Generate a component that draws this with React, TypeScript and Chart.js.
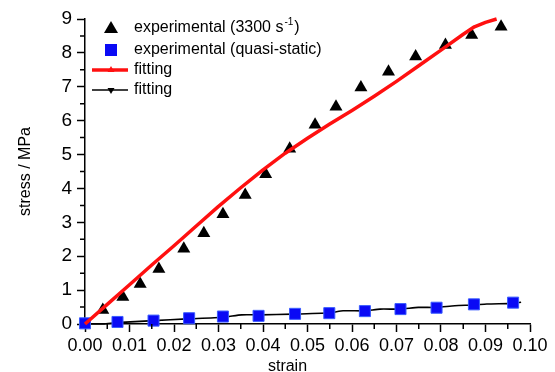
import React, { useEffect, useRef } from "react";
import { Chart, registerables } from "chart.js";

Chart.register(...registerables);

// experimental (3300 s^-1)
const dynStrain = [0.004, 0.0085, 0.0124, 0.0166, 0.0222, 0.0267, 0.031, 0.036, 0.0406, 0.046, 0.0517, 0.0564, 0.062, 0.0682, 0.0743, 0.081, 0.0869, 0.0935];
const dynStress = [0.41, 0.8, 1.18, 1.62, 2.22, 2.68, 3.24, 3.81, 4.42, 5.17, 5.88, 6.41, 6.98, 7.44, 7.89, 8.23, 8.53, 8.77];

// experimental (quasi-static)
const qsStrain = [0.0, 0.0073, 0.0154, 0.0234, 0.031, 0.039, 0.0472, 0.0549, 0.0629, 0.0709, 0.079, 0.0874, 0.0962];
const qsStress = [0.02, 0.06, 0.1, 0.17, 0.22, 0.24, 0.3, 0.32, 0.38, 0.44, 0.48, 0.58, 0.63];

// fitting (dynamic)
const fitDynStrain = [0, 0.005, 0.01, 0.015, 0.02, 0.025, 0.03, 0.035, 0.04, 0.045, 0.05, 0.055, 0.06, 0.065, 0.07, 0.075, 0.08, 0.085, 0.0875, 0.09, 0.0925];
const fitDynStress = [0, 0.58, 1.16, 1.74, 2.31, 2.89, 3.47, 4.02, 4.55, 5.04, 5.48, 5.9, 6.3, 6.72, 7.16, 7.62, 8.08, 8.55, 8.77, 8.9, 9.0];

// fitting (quasi-static)
const fitQsStrain = [0, 0.0041, 0.0071, 0.0154, 0.0229, 0.0311, 0.0352, 0.0393, 0.0468, 0.0551, 0.058, 0.0629, 0.0663, 0.0708, 0.0749, 0.079, 0.0831, 0.0873, 0.0903, 0.0962, 0.098];
const fitQsStress = [0, 0, 0.04, 0.1, 0.15, 0.2, 0.27, 0.27, 0.29, 0.33, 0.39, 0.39, 0.44, 0.44, 0.49, 0.49, 0.54, 0.56, 0.59, 0.61, 0.64];

const seriesLabels = ["experimental (3300 s⁻¹)", "experimental (quasi-static)", "fitting", "fitting"];

const xTitle = "strain";
const yTitle = "stress / MPa";
const xMin = 0, xMax = 0.1, xStep = 0.01;
const yMin = 0, yMax = 9, yStep = 1;

const pts = (xs: number[], ys: number[]) => xs.map((x, i) => ({ x, y: ys[i] }));

const TICK_FONT = "'Liberation Sans Narrow', 'Arial Narrow', 'Liberation Sans', Arial, sans-serif";
const TEXT_FONT = "'Liberation Sans', Arial, sans-serif";

const minorTicks = {
  id: "minorTicks",
  afterDraw(chart: any) {
    const { ctx } = chart;
    const xs = chart.scales.x;
    const ys = chart.scales.y;
    ctx.save();
    ctx.strokeStyle = "#000";
    ctx.lineWidth = 1.5;
    ctx.beginPath();
    for (let v = yMin + yStep / 2; v < yMax; v += yStep) {
      const p = ys.getPixelForValue(v);
      ctx.moveTo(ys.right - 5, p);
      ctx.lineTo(ys.right, p);
    }
    for (let v = xMin + xStep / 2; v < xMax; v += xStep) {
      const p = xs.getPixelForValue(v);
      ctx.moveTo(p, xs.top);
      ctx.lineTo(p, xs.top + 5);
    }
    ctx.stroke();
    ctx.restore();
  },
};

const customLegend = {
  id: "customLegend",
  afterDraw(chart: any) {
    const { ctx, chartArea } = chart;
    const left = chartArea.left;
    const top = chartArea.top;
    const markerX = left + 26;
    const lineX0 = left + 7;
    const lineX1 = left + 43;
    const textX = left + 49;
    const rows = [top + 9, top + 31, top + 51, top + 71];
    const dsOrder = [1, 2, 0, 3];
    ctx.save();
    rows.forEach((y, i) => {
      const ds = chart.data.datasets[dsOrder[i]];
      const isLine = ds.showLine;
      if (isLine) {
        ctx.strokeStyle = ds.borderColor;
        ctx.lineWidth = ds.borderWidth;
        ctx.beginPath();
        ctx.moveTo(lineX0, y);
        ctx.lineTo(lineX1, y);
        ctx.stroke();
        ctx.fillStyle = ds.borderColor;
        ctx.beginPath();
        if (ds.legendMarker === "up") {
          ctx.moveTo(markerX, y - 4);
          ctx.lineTo(markerX + 3.5, y + 2);
          ctx.lineTo(markerX - 3.5, y + 2);
        } else {
          ctx.moveTo(markerX, y + 4);
          ctx.lineTo(markerX + 3.5, y - 2);
          ctx.lineTo(markerX - 3.5, y - 2);
        }
        ctx.closePath();
        ctx.fill();
      } else {
        ctx.fillStyle = ds.backgroundColor;
        ctx.beginPath();
        if (ds.pointStyle === "triangle") {
          ctx.moveTo(markerX, y - 7);
          ctx.lineTo(markerX + 7, y + 5);
          ctx.lineTo(markerX - 7, y + 5);
          ctx.closePath();
        } else {
          ctx.rect(markerX - 6, y - 6, 12, 12);
        }
        ctx.fill();
      }
      const label: string = seriesLabels[i];
      ctx.fillStyle = "#000";
      ctx.textBaseline = "middle";
      ctx.textAlign = "left";
      ctx.font = `16px ${TEXT_FONT}`;
      const sup = label.indexOf("⁻¹");
      if (sup >= 0) {
        const before = label.slice(0, sup);
        const after = label.slice(sup + 2);
        ctx.fillText(before, textX, y);
        let x = textX + ctx.measureText(before).width + 1;
        ctx.font = `10px ${TEXT_FONT}`;
        ctx.fillText("-1", x, y - 6);
        x += ctx.measureText("-1").width + 1;
        ctx.font = `16px ${TEXT_FONT}`;
        ctx.fillText(after, x, y);
      } else {
        ctx.fillText(label, textX, y);
      }
    });
    ctx.restore();
  },
};

export default function App() {
  const ref = useRef<HTMLCanvasElement>(null);
  useEffect(() => {
    if (!ref.current) return;
    const chart = new Chart(ref.current, {
      type: "scatter",
      data: {
        datasets: [
          {
            label: seriesLabels[2],
            data: pts(fitDynStrain, fitDynStress),
            showLine: true,
            borderColor: "#ff1010",
            backgroundColor: "#ff1010",
            borderWidth: 3.5,
            pointRadius: 0,
            tension: 0,
            borderJoinStyle: "round",
            clip: false,
            order: 0,
            legendMarker: "up",
          } as any,
          {
            label: seriesLabels[0],
            data: pts(dynStrain, dynStress),
            showLine: false,
            pointStyle: "triangle",
            pointRadius: 7.5,
            backgroundColor: "#000",
            borderColor: "#000",
            borderWidth: 0,
            clip: false,
            order: 1,
          },
          {
            label: seriesLabels[1],
            data: pts(qsStrain, qsStress),
            showLine: false,
            pointStyle: "rect",
            pointRadius: 7.8,
            backgroundColor: "#0a0af5",
            borderColor: "#3a5cff",
            borderWidth: 1,
            clip: false,
            order: 2,
          },
          {
            label: seriesLabels[3],
            data: pts(fitQsStrain, fitQsStress),
            showLine: true,
            borderColor: "#000",
            backgroundColor: "#000",
            borderWidth: 1.6,
            pointRadius: 0,
            tension: 0.2,
            clip: false,
            order: 3,
            legendMarker: "down",
          } as any,
        ],
      },
      options: {
        animation: false,
        responsive: false,
        layout: { padding: { left: 0, right: 25, top: 19, bottom: 0 } },
        plugins: {
          legend: { display: false },
          tooltip: { enabled: false },
        },
        scales: {
          x: {
            type: "linear",
            min: xMin,
            max: xMax,
            grid: {
              drawOnChartArea: false,
              drawTicks: true,
              tickLength: 8,
              tickColor: "#000",
              tickWidth: 1.5,
            },
            border: { display: true, color: "#000", width: 1.5 },
            ticks: {
              stepSize: xStep,
              autoSkip: false,
              maxRotation: 0,
              padding: 3,
              color: "#000",
              font: { family: TICK_FONT, size: 18 },
              callback: (v: any) => Number(v).toFixed(2),
            },
            title: {
              display: true,
              text: xTitle + "         ",
              color: "#000",
              font: { family: TEXT_FONT, size: 16 },
              padding: { top: 0, bottom: -4 },
            },
            afterFit: (s: any) => {
              s.height = 48;
            },
          },
          y: {
            type: "linear",
            min: yMin,
            max: yMax,
            grid: {
              drawOnChartArea: false,
              drawTicks: true,
              tickLength: 8,
              tickColor: "#000",
              tickWidth: 1.5,
            },
            border: { display: true, color: "#000", width: 1.5 },
            ticks: {
              stepSize: yStep,
              autoSkip: false,
              padding: 5,
              color: "#000",
              font: { family: TICK_FONT, size: 19 },
              callback: (v: any) => String(Math.round(Number(v))),
            },
            title: {
              display: true,
              text: yTitle,
              color: "#000",
              font: { family: TEXT_FONT, size: 16 },
              padding: { top: 16, bottom: 0 },
            },
            afterFit: (s: any) => {
              s.width = 85;
            },
          },
        },
      },
      plugins: [minorTicks, customLegend],
    });
    return () => chart.destroy();
  }, []);
  return (
    <div style={{ position: "fixed", left: 0, top: 0, width: 555, height: 372, background: "#fff" }}>
      <canvas ref={ref} width={555} height={372} style={{ display: "block" }} />
    </div>
  );
}
